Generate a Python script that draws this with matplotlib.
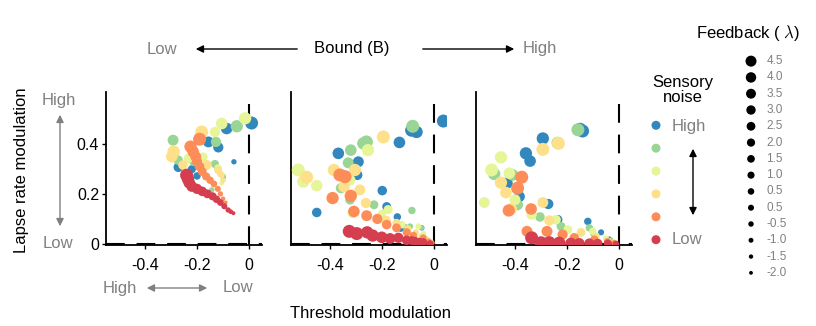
import numpy as np
import pandas as pd
import matplotlib
matplotlib.use("Agg")
import matplotlib.pyplot as plt
from matplotlib.patches import FancyArrowPatch

plt.rcParams['font.family'] = ['Liberation Sans', 'DejaVu Sans']
plt.rcParams['axes.unicode_minus'] = False
plt.rcParams['mathtext.fontset'] = 'cm'
plt.rcParams['lines.scale_dashes'] = False

# noise level: 0 = high (blue) ... 5 = low (red); columns: noise, lambda, threshold, lapse
noise_colors = ['#3288bd', '#99d594', '#e6f598', '#fee08b', '#fc8d59', '#d53e4f']
feedback_labels = ['4.5', '4.0', '3.5', '3.0', '2.5', '2.0', '1.5', '1.0',
                   '0.5', '0.5', '-0.5', '-1.0', '-1.5', '-2.0']
feedback_values = [4.5, 4.0, 3.5, 3.0, 2.5, 2.0, 1.5, 1.0, 0.5, 0.0,
                   -0.5, -1.0, -1.5, -2.0]

bound_low = [
    (0, 4.5, 0.010, 0.485), (0, 3.5, -0.086, 0.463), (0, 3.0, -0.156, 0.409),
    (0, 2.5, -0.118, 0.387), (0, 2.0, -0.272, 0.307), (0, 1.0, -0.220, 0.299),
    (0, 0.5, -0.200, 0.272), (0, -1.5, -0.099, 0.267), (0, -1.0, -0.058, 0.329),
    (1, 4.0, -0.047, 0.472), (1, 3.0, -0.292, 0.416), (1, 2.5, -0.127, 0.409),
    (1, 2.0, -0.273, 0.336), (1, 1.0, -0.215, 0.330), (1, 1.0, -0.131, 0.320),
    (1, -1.0, -0.143, 0.216), (1, -0.5, -0.100, 0.270),
    (2, 4.0, -0.015, 0.504), (2, 3.5, -0.105, 0.483), (2, 2.5, -0.131, 0.449),
    (2, 2.0, -0.233, 0.343), (2, 1.5, -0.176, 0.349), (2, 1.0, -0.201, 0.343),
    (2, 0.5, -0.119, 0.304), (2, -0.5, -0.105, 0.276), (2, -1.5, -0.105, 0.243),
    (3, 4.5, -0.182, 0.449), (3, 4.0, -0.290, 0.370), (3, 3.5, -0.297, 0.350),
    (3, 2.0, -0.254, 0.316), (3, 2.5, -0.163, 0.316), (3, 1.0, -0.119, 0.296),
    (3, 0.0, -0.110, 0.280), (3, -1.0, -0.100, 0.255),
    (4, -2.0, -0.090, 0.165), (4, -1.5, -0.100, 0.180), (4, -1.0, -0.110, 0.200),
    (4, -0.5, -0.120, 0.220), (4, 0.0, -0.135, 0.240), (4, 0.5, -0.150, 0.255),
    (4, 1.0, -0.165, 0.270), (4, 1.5, -0.180, 0.290), (4, 2.0, -0.190, 0.310),
    (4, 2.5, -0.200, 0.330), (4, 3.0, -0.205, 0.350), (4, 3.5, -0.215, 0.370),
    (4, 4.0, -0.225, 0.390), (4, 4.5, -0.190, 0.420),
    (5, -2.0, -0.060, 0.122), (5, -1.5, -0.070, 0.128), (5, -1.0, -0.080, 0.135),
    (5, -0.5, -0.095, 0.150), (5, 0.0, -0.110, 0.165), (5, 0.5, -0.125, 0.178),
    (5, 1.0, -0.140, 0.190), (5, 1.5, -0.160, 0.200), (5, 2.0, -0.180, 0.210),
    (5, 2.5, -0.200, 0.220), (5, 3.0, -0.220, 0.230), (5, 3.5, -0.230, 0.245),
    (5, 4.0, -0.235, 0.260), (5, 4.5, -0.240, 0.275),
]

bound_mid = [
    (0, 4.5, 0.036, 0.493), (0, 4.5, -0.086, 0.456), (0, 4.0, -0.067, 0.449),
    (0, 3.5, -0.133, 0.407), (0, 3.5, -0.368, 0.363), (0, 3.0, -0.291, 0.329),
    (0, 2.5, -0.295, 0.276), (0, 2.0, -0.199, 0.213), (0, 1.5, -0.182, 0.149),
    (0, 2.0, -0.451, 0.125), (0, 0.5, -0.141, 0.107), (0, -0.5, -0.128, 0.059),
    (0, -1.0, -0.047, 0.063), (0, -2.0, -0.030, 0.020),
    (1, 4.5, -0.082, 0.472), (1, 4.5, -0.260, 0.409), (1, 4.0, -0.272, 0.403),
    (1, 3.5, -0.320, 0.376), (1, 3.0, -0.330, 0.325), (1, 2.5, -0.358, 0.223),
    (1, 2.0, -0.323, 0.176), (1, 1.5, -0.231, 0.156), (1, 1.0, -0.178, 0.139),
    (1, 0.5, -0.085, 0.133), (1, -0.5, -0.092, 0.069), (1, -1.0, -0.110, 0.068),
    (1, -1.5, -0.047, 0.063), (1, -2.0, -0.020, 0.010),
    (2, 4.0, -0.254, 0.376), (2, 4.5, -0.522, 0.296), (2, 4.0, -0.503, 0.249),
    (2, 3.5, -0.451, 0.233), (2, 3.0, -0.323, 0.256), (2, 2.5, -0.313, 0.123),
    (2, 1.5, -0.176, 0.136), (2, 1.0, -0.200, 0.120), (2, 0.5, -0.124, 0.076),
    (2, -0.5, -0.060, 0.069), (2, -1.0, -0.040, 0.040), (2, -1.5, -0.025, 0.020),
    (2, -2.0, -0.010, 0.010),
    (3, 4.5, -0.195, 0.429), (3, 4.5, -0.490, 0.267), (3, 4.0, -0.385, 0.296),
    (3, 4.0, -0.304, 0.296), (3, 3.5, -0.346, 0.229), (3, 3.0, -0.285, 0.216),
    (3, 2.5, -0.262, 0.163), (3, 2.0, -0.185, 0.093), (3, 1.0, -0.144, 0.083),
    (3, 0.0, -0.100, 0.060), (3, -0.5, -0.070, 0.045), (3, -1.0, -0.050, 0.030),
    (3, -1.5, -0.030, 0.015), (3, -2.0, -0.010, 0.005),
    (4, 4.5, -0.362, 0.276), (4, 4.5, -0.342, 0.269), (4, 4.0, -0.390, 0.183),
    (4, 4.0, -0.320, 0.192), (4, 3.5, -0.308, 0.129), (4, 3.0, -0.259, 0.112),
    (4, 2.5, -0.218, 0.099), (4, 2.0, -0.182, 0.076), (4, 1.5, -0.144, 0.063),
    (4, 1.0, -0.105, 0.045), (4, 0.5, -0.079, 0.032), (4, 0.0, -0.041, 0.023),
    (4, -1.0, -0.020, 0.010), (4, -2.0, -0.005, 0.003),
    (5, 4.5, -0.326, 0.049), (5, 4.5, -0.297, 0.040), (5, 4.0, -0.257, 0.045),
    (5, 4.0, -0.236, 0.032), (5, 3.5, -0.201, 0.025), (5, 3.0, -0.169, 0.020),
    (5, 2.5, -0.137, 0.023), (5, 2.0, -0.105, 0.013), (5, 1.5, -0.085, 0.012),
    (5, 1.5, -0.073, 0.009), (5, 0.5, -0.055, 0.008), (5, 1.0, -0.041, 0.005),
    (5, 0.0, -0.015, 0.000),
]

bound_high = [
    (0, 4.5, -0.140, 0.453), (0, 4.5, -0.150, 0.460), (0, 4.0, -0.293, 0.423),
    (0, 4.0, -0.358, 0.363), (0, 3.5, -0.342, 0.332), (0, 3.5, -0.431, 0.243),
    (0, 3.0, -0.383, 0.189), (0, 2.5, -0.272, 0.159), (0, 2.0, -0.236, 0.096),
    (0, 0.5, -0.120, 0.089), (0, -0.5, -0.069, 0.045), (0, -1.5, -0.037, 0.019),
    (1, 4.5, -0.158, 0.458), (1, 4.0, -0.236, 0.405), (1, 4.0, -0.480, 0.280),
    (1, 3.5, -0.409, 0.276), (1, 3.0, -0.390, 0.156), (1, 2.0, -0.304, 0.107),
    (1, 1.5, -0.223, 0.069), (1, 0.5, -0.114, 0.063), (1, -0.5, -0.100, 0.040),
    (1, -1.5, -0.030, 0.015),
    (2, 4.0, -0.454, 0.347), (2, 4.5, -0.490, 0.296), (2, 3.5, -0.422, 0.283),
    (2, 3.0, -0.518, 0.165), (2, 3.0, -0.400, 0.176), (2, 2.5, -0.336, 0.116),
    (2, 2.0, -0.242, 0.096), (2, 1.5, -0.197, 0.056), (2, 0.5, -0.101, 0.049),
    (2, -0.5, -0.050, 0.020), (2, -1.5, -0.020, 0.008),
    (3, 4.5, -0.293, 0.379), (3, 4.5, -0.233, 0.403), (3, 4.0, -0.454, 0.245),
    (3, 3.5, -0.435, 0.205), (3, 3.5, -0.415, 0.139), (3, 3.0, -0.293, 0.165),
    (3, 2.5, -0.268, 0.093), (3, 1.5, -0.146, 0.045), (3, 0.5, -0.088, 0.029),
    (3, -0.5, -0.040, 0.010), (3, -1.5, -0.015, 0.005),
    (4, 4.5, -0.374, 0.267), (4, 4.5, -0.390, 0.223), (4, 4.0, -0.424, 0.133),
    (4, 3.5, -0.338, 0.139), (4, 3.0, -0.354, 0.049), (4, 3.0, -0.277, 0.049),
    (4, 2.5, -0.217, 0.036), (4, 2.0, -0.172, 0.023), (4, 1.0, -0.095, 0.016),
    (4, 0.0, -0.045, 0.008), (4, -1.0, -0.020, 0.003),
    (5, 4.5, -0.336, 0.023), (5, 4.5, -0.300, 0.003), (5, 4.0, -0.268, 0.005),
    (5, 4.0, -0.230, 0.003), (5, 3.5, -0.185, 0.000), (5, 3.0, -0.153, 0.000),
    (5, 2.5, -0.114, 0.000), (5, 2.0, -0.082, 0.000), (5, 1.0, -0.043, 0.000),
    (5, 0.0, -0.012, -0.002),
]


def marker_area(lam, d_min=4.0, d_max=13.0):
    # diameter (px) grows linearly with feedback
    d_px = d_min + (np.asarray(lam) + 2.0) * (d_max - d_min) / 6.5
    return (d_px * 0.72) ** 2


W, H = 816, 326


def fx(px):
    return px / W


def fy(py):
    return 1 - py / H


fig = plt.figure(figsize=(W / 100, H / 100), dpi=100)

panels = [bound_low, bound_mid, bound_high]
lefts = [106, 291, 476]
for i, (rows, left) in enumerate(zip(panels, lefts)):
    ax = fig.add_axes([fx(left), fy(245), 156 / W, 153 / H])
    df = pd.DataFrame(rows, columns=['noise', 'lam', 'thr', 'lapse'])
    ax.axhline(0, color='black', lw=1.5, ls=(0, (13.5, 8.5)), zorder=1)
    ax.axvline(0, ymax=0.95, color='black', lw=1.5, ls=(0, (13.5, 8.5)), zorder=1)
    for k in range(6):
        sub = df[df['noise'] == k]
        ax.scatter(sub['thr'], sub['lapse'], s=marker_area(sub['lam']),
                   color=noise_colors[k], edgecolors='none', zorder=2 + k)
    ax.set_xlim(-0.55, 0.05)
    ax.set_ylim(-0.006, 0.61)
    ax.set_xticks([-0.4, -0.2, 0])
    ax.set_xticklabels(['-0.4', '-0.2', '0'])
    for side in ['top', 'right']:
        ax.spines[side].set_visible(False)
    for side in ['left', 'bottom']:
        ax.spines[side].set_linewidth(1.3)
    ax.tick_params(labelsize=11.5, length=3, width=1, pad=6)
    if i == 0:
        ax.set_yticks([0, 0.2, 0.4])
        ax.set_yticklabels(['0', '0.2', '0.4'])
        ax.tick_params(axis='y', pad=2)
    else:
        ax.set_yticks([])

gray = '#808080'

# top annotation
fig.text(fx(162), fy(49), 'Low', color=gray, fontsize=12, ha='center', va='center')
fig.text(fx(352), fy(49), 'Bound (B)', color='black', fontsize=12, ha='center', va='center')
fig.text(fx(540), fy(49), 'High', color=gray, fontsize=12, ha='center', va='center')


def arrow(p0, p1, style, color):
    a = FancyArrowPatch((fx(p0[0]), fy(p0[1])), (fx(p1[0]), fy(p1[1])),
                        transform=fig.transFigure, arrowstyle=style,
                        mutation_scale=11, color=color, lw=1.0)
    fig.add_artist(a)


arrow((300, 49), (193, 49), '-|>', 'black')
arrow((420, 49), (517, 49), '-|>', 'black')

# y axis annotation
fig.text(fx(22), fy(170), 'Lapse rate modulation', rotation=90, fontsize=12,
         ha='center', va='center')
fig.text(fx(59), fy(101), 'High', color=gray, fontsize=12, ha='center', va='center')
fig.text(fx(58), fy(244), 'Low', color=gray, fontsize=12, ha='center', va='center')
arrow((60, 229), (60, 112), '<|-|>', gray)

# x axis annotation
fig.text(fx(120), fy(288), 'High', color=gray, fontsize=12, ha='center', va='center')
fig.text(fx(238), fy(288), 'Low', color=gray, fontsize=12, ha='center', va='center')
arrow((144, 288), (210, 288), '<|-|>', gray)
fig.text(fx(370), fy(313), 'Threshold modulation', fontsize=12, ha='center', va='center')

# sensory noise legend
fig.text(fx(683), fy(90), 'Sensory\nnoise', fontsize=12, ha='center', va='center',
         linespacing=1.0)
leg1 = fig.add_axes([fx(645), fy(250), 22 / W, 135 / H])
leg1.scatter(np.zeros(6), np.arange(6), s=(9.0 * 0.72) ** 2, color=noise_colors,
             edgecolors='none')
leg1.set_xlim(-1, 1)
leg1.set_ylim(5.45, -0.45)
leg1.axis('off')
fig.text(fx(672), fy(127), 'High', color=gray, fontsize=12, ha='left', va='center')
fig.text(fx(672), fy(240), 'Low', color=gray, fontsize=12, ha='left', va='center')
arrow((693, 146), (693, 218), '<|-|>', 'black')

# feedback legend
fig.text(fx(748), fy(33), r'Feedback ( $\lambda$)', fontsize=12, ha='center', va='center')
leg2 = fig.add_axes([fx(740), fy(281), 22 / W, 228 / H])
n = len(feedback_values)
leg2.scatter(np.zeros(n), np.arange(n),
             s=marker_area(feedback_values, d_min=3.8, d_max=11.0),
             color='black', edgecolors='none')
leg2.set_xlim(-1, 1)
leg2.set_ylim(n - 0.5, -0.5)
leg2.axis('off')
for j, lab in enumerate(feedback_labels):
    leg2.text(1.4, j, lab, color=gray, fontsize=8.5, ha='left', va='center')

fig.savefig('out.png', dpi=100)
